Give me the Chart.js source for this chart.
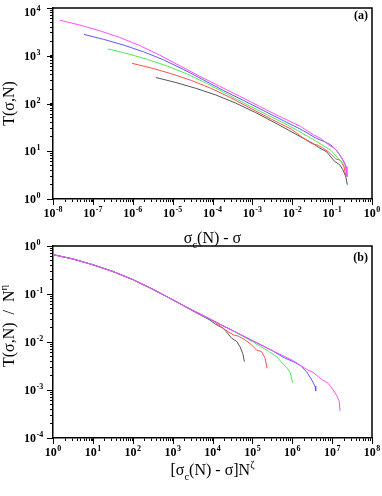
<!DOCTYPE html>
<html><head><meta charset="utf-8">
<script src="https://cdn.jsdelivr.net/npm/chart.js@4.4.1/dist/chart.umd.min.js"></script>
<style>
html,body{margin:0;padding:0;background:#fff;width:382px;height:496px;overflow:hidden}
canvas{position:absolute;left:0}
#ca{top:0}
#cb{top:232px}
</style></head><body>
<canvas id="ca" width="382" height="250"></canvas>
<canvas id="cb" width="382" height="264"></canvas>
<script>
// ---------- data ----------
const seriesLabels = ['N = 512', 'N = 1024', 'N = 2048', 'N = 4096', 'N = 8192'];

// panel (a): T(sigma,N) vs sigma_c(N) - sigma
const aGrayX = [3.81e-6,1.21e-5,3.81e-5,1.21e-4,3.81e-4,1.21e-3,3.81e-3,1.21e-2,3.25e-2,4.59e-2,5.91e-2,7.27e-2,8.54e-2,0.115,0.155,0.187,0.220,0.241];
const aGrayY = [350,275,208,151,102,64.5,38.9,22.9,14.7,12.0,10.7,9.78,8.29,6.14,5.22,4.07,2.94,1.99];
const aRedX = [9.54e-7,3.02e-6,9.54e-6,3.02e-5,9.54e-5,3.02e-4,9.54e-4,3.02e-3,9.54e-3,1.35e-2,1.78e-2,2.40e-2,3.16e-2,4.26e-2,5.62e-2,8.31e-2,0.107,0.123,0.162,0.199,0.224];
const aRedY = [695,550,417,302,205,129,77.7,46.8,28.9,23.4,19.6,16.6,14.4,13.5,12.0,9.55,7.77,6.92,6.46,4.68,2.89];
const aGreenX = [2.38e-7,7.54e-7,2.38e-6,7.54e-6,2.38e-5,7.54e-5,2.38e-4,7.54e-4,2.38e-3,7.54e-3,2.38e-2,3.78e-2,5.99e-2,9.49e-2,0.134,0.181,0.212,0.244];
const aGreenY = [1390,1100,834,604,410,258,155,93.6,57.8,35.6,20.9,16.6,13.2,10.3,7.43,5.78,4.69,2.89];
const aBlueX = [5.96e-8,1.88e-7,5.96e-7,1.88e-6,5.96e-6,1.88e-5,5.96e-5,1.88e-4,5.96e-4,1.88e-3,5.96e-3,1.88e-2,3.76e-2,6.39e-2,9.23e-2,0.137,0.184,0.221,0.232];
const aBlueY = [2800,2200,1667,1208,819,516,311,187,116,71.3,43.8,27.1,19.2,15.9,13.6,9.83,6.64,4.92,3.91];
const aMagX = [1.49e-8,4.71e-8,1.49e-7,4.71e-7,1.49e-6,4.71e-6,1.49e-5,4.71e-5,1.49e-4,4.71e-4,1.49e-3,4.71e-3,1.60e-2,3.41e-2,5.05e-2,8.19e-2,0.118,0.160,0.201,0.226,0.236];
const aMagY = [5550,4399,3334,2417,1638,1032,622,374,231,143,87.7,54.1,33.3,22.0,18.8,13.6,11.3,8.19,5.93,4.71,2.97];

// panel (b): T/N^eta vs [sigma_c(N) - sigma] N^zeta
const bGrayX = [1,3.16,10,31.6,100,316,1000,3162,8510,12000,15500,19100,22400,30200,40700,49000,57500,63100];
const bGrayY = [0.661,0.537,0.407,0.295,0.200,0.126,0.0759,0.0447,0.0288,0.0234,0.0209,0.0191,0.0162,0.0120,0.0102,0.00794,0.00575,0.00389];
const bRedX = [1,3.16,10,31.6,100,316,1000,3162,10000,14100,18600,25100,33100,44700,58900,87100,112000,129000,170000,209000,234000];
const bRedY = [0.661,0.537,0.407,0.295,0.200,0.126,0.0759,0.0457,0.0282,0.0229,0.0191,0.0162,0.0141,0.0132,0.0117,0.00933,0.00759,0.00676,0.00631,0.00457,0.00282];
const bGreenX = [1,3.16,10,31.6,100,316,1000,3162,10000,31600,100000,158000,251000,398000,562000,759000,891000,1020000];
const bGreenY = [0.661,0.537,0.407,0.295,0.200,0.126,0.0759,0.0457,0.0282,0.0174,0.0102,0.00813,0.00646,0.00501,0.00363,0.00282,0.00229,0.00141];
const bBlueX = [1,3.16,10,31.6,100,316,1000,3162,10000,31600,100000,316000,631000,1070000,1550000,2290000,3090000,3720000,3890000];
const bBlueY = [0.661,0.537,0.407,0.295,0.200,0.126,0.0759,0.0457,0.0282,0.0174,0.0107,0.00661,0.00468,0.00389,0.00331,0.00240,0.00162,0.00120,0.000955];
const bMagX = [1,3.16,10,31.6,100,316,1000,3162,10000,31600,100000,316000,1070000,2290000,3390000,5500000,7940000,10700000,13500000,15100000,15800000];
const bMagY = [0.661,0.537,0.407,0.295,0.200,0.126,0.0759,0.0457,0.0282,0.0174,0.0107,0.00661,0.00407,0.00269,0.00229,0.00166,0.00138,0.00100,0.000724,0.000575,0.000363];

// tick labels (powers of ten: exponents)
const xExpA = [-8,-7,-6,-5,-4,-3,-2,-1,0];
const yExpA = [0,1,2,3,4];
const xExpB = [0,1,2,3,4,5,6,7,8];
const yExpB = [-4,-3,-2,-1,0];

// titles (rich text segments: s=-1 subscript, s=1 superscript)
const xTitleA = [{t:'\u03c3'},{t:'c',s:-1},{t:'(N) - \u03c3'}];
const yTitleA = [{t:'T(\u03c3,N)'}];
const xTitleB = [{t:'[\u03c3'},{t:'c',s:-1},{t:'(N) - \u03c3]N'},{t:'\u03b6',s:1}];
const yTitleB = [{t:'T(\u03c3,N)  /  N'},{t:'\u03b7',s:1}];
const panelTags = ['(a)','(b)'];

// ---------- styles ----------
const seriesColors = ['#555555','#ff5050','#50ea50','#5a5aff','#ff50ff'];
const seriesOrder = [4,3,2,1,0]; // magenta drawn on top
const SERIF = "'Liberation Serif','Times New Roman',serif";

function pts(xs, ys){ return xs.map((x,i)=>({x:x, y:ys[i]})); }
function makeTicks(e0, e1){
  const t=[];
  for(let e=e0;e<=e1;e++){ for(let m=1;m<=9;m++){ if(e===e1 && m>1) break; t.push({value: m*Math.pow(10,e), major: m===1}); } }
  return t;
}
function logAxis(min,max,e0,e1,prop,val){
  return {type:'logarithmic', min:min, max:max,
    afterBuildTicks(s){ s.ticks = makeTicks(e0,e1); },
    afterFit(s){ s[prop] = val; },
    ticks:{display:false, autoSkip:false},
    grid:{display:true, drawOnChartArea:false, drawTicks:true, tickLength:3, tickColor:'#000', tickWidth:1},
    border:{display:true, color:'#000', width:1.5}};
}
function drawPow(ctx, e, x, y, align){
  ctx.font = "bold 12px " + SERIF;
  const w1 = ctx.measureText('10').width;
  ctx.font = "bold 8px " + SERIF;
  const es = String(e);
  const w2 = ctx.measureText(es).width;
  const total = w1 + 0.5 + w2;
  const x0 = align === 'center' ? x - total/2 : x;
  ctx.font = "bold 12px " + SERIF;
  ctx.fillText('10', x0, y);
  ctx.font = "bold 8px " + SERIF;
  ctx.fillText(es, x0 + w1 + 0.5, y - 5);
}
function drawRich(ctx, segs, x, y, size, rot){
  const parts = segs.map(sg=>{ const sz = sg.s ? size*0.66 : size; ctx.font = sz+"px "+SERIF; return {t:sg.t, s:sg.s||0, sz:sz, w:ctx.measureText(sg.t).width}; });
  const total = parts.reduce((a,p)=>a+p.w,0);
  ctx.save(); ctx.translate(x,y); if(rot) ctx.rotate(-Math.PI/2);
  let cx = -total/2;
  parts.forEach(p=>{ ctx.font = p.sz+"px "+SERIF; const dy = p.s===-1 ? size*0.3 : (p.s===1 ? -size*0.45 : 0); ctx.fillText(p.t, cx, dy); cx += p.w; });
  ctx.restore();
}
const deco = {
  id:'deco',
  afterDraw(chart, args, o){
    const ctx = chart.ctx, ca = chart.chartArea, xs = chart.scales.x, ys = chart.scales.y;
    ctx.save();
    ctx.strokeStyle = '#000'; ctx.lineWidth = 1.5;
    ctx.beginPath(); ctx.moveTo(ca.left, ca.top); ctx.lineTo(ca.right, ca.top); ctx.lineTo(ca.right, ca.bottom); ctx.stroke();
    ctx.lineWidth = 1;
    o.xExp.forEach(e=>{ const px = Math.round(xs.getPixelForValue(Math.pow(10,e)))+0.5; ctx.beginPath(); ctx.moveTo(px, ca.bottom); ctx.lineTo(px, ca.bottom+6); ctx.stroke(); });
    o.yExp.forEach(e=>{ const py = Math.round(ys.getPixelForValue(Math.pow(10,e)))+0.5; ctx.beginPath(); ctx.moveTo(ca.left, py); ctx.lineTo(ca.left-6, py); ctx.stroke(); });
    ctx.fillStyle = '#000'; ctx.textAlign = 'left'; ctx.textBaseline = 'alphabetic';
    o.xExp.forEach(e=>{ drawPow(ctx, e, xs.getPixelForValue(Math.pow(10,e)), ca.bottom+18, 'center'); });
    o.yExp.forEach(e=>{ let py = ys.getPixelForValue(Math.pow(10,e)); if(o.clampTop) py = Math.max(py, o.clampTop); drawPow(ctx, e, 24, py+4, 'left'); });
    drawRich(ctx, o.xTitle, (ca.left+ca.right)/2, o.xTitleY, 16, false);
    drawRich(ctx, o.yTitle, o.yTitleX, o.yTitleC, 16, true);
    ctx.font = "bold 12px " + SERIF; ctx.textAlign = 'right';
    ctx.fillText(o.tag, ca.right-4, ca.top + o.tagDy);
    ctx.restore();
  }
};
function mkDatasets(xsList, ysList){
  return xsList.map((xs,i)=>({label: seriesLabels[i], data: pts(xs, ysList[i]), order: seriesOrder[i], showLine:true, borderColor: seriesColors[i], backgroundColor: seriesColors[i], borderWidth:1, pointRadius:0, tension:0}));
}
function baseOpts(padTop, xAxis, yAxis, decoOpts){
  return {responsive:false, animation:false, events:[],
    layout:{padding:{left:0,right:10,top:padTop,bottom:0}},
    plugins:{legend:{display:false}, tooltip:{enabled:false}, deco: decoOpts},
    scales:{x:xAxis, y:yAxis}};
}
new Chart(document.getElementById('ca'), {
  type:'scatter',
  data:{datasets: mkDatasets([aGrayX,aRedX,aGreenX,aBlueX,aMagX],[aGrayY,aRedY,aGreenY,aBlueY,aMagY])},
  options: baseOpts(8, logAxis(1e-8,1,-8,0,'height',51), logAxis(1,1e4,0,4,'width',53),
    {xExp:xExpA, yExp:yExpA, xTitle:xTitleA, yTitle:yTitleA, xTitleY:243, yTitleX:14, yTitleC:103.5, tag:panelTags[0], tagDy:11, clampTop:12}),
  plugins:[deco]
});
new Chart(document.getElementById('cb'), {
  type:'scatter',
  data:{datasets: mkDatasets([bGrayX,bRedX,bGreenX,bBlueX,bMagX],[bGrayY,bRedY,bGreenY,bBlueY,bMagY])},
  options: baseOpts(14, logAxis(1,1e8,0,8,'height',58), logAxis(1e-4,1,-4,0,'width',53),
    {xExp:xExpB, yExp:yExpB, xTitle:xTitleB, yTitle:yTitleB, xTitleY:243, yTitleX:14, yTitleC:94, tag:panelTags[1], tagDy:15, clampTop:0}),
  plugins:[deco]
});
</script>
</body></html>
